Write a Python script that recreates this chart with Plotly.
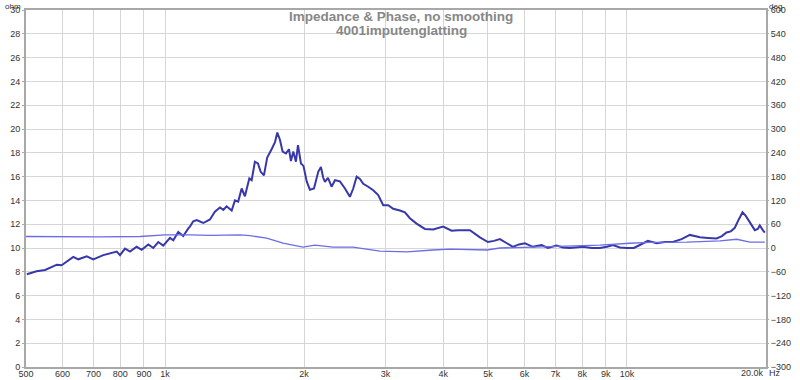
import plotly.graph_objects as go

# Impedance magnitude (ohm) vs frequency (Hz)
imp_freq = [502, 527, 550, 583, 597, 633, 649, 677, 699, 735, 786, 799, 819, 840, 868, 890, 920, 943, 967, 991,
            1025, 1042, 1068, 1095, 1123, 1132, 1151, 1171, 1210, 1251, 1282, 1315, 1337, 1359, 1394, 1417, 1440,
            1465, 1489, 1522, 1540, 1565, 1589, 1611, 1637, 1664, 1701, 1730, 1750, 1773, 1797, 1827, 1855, 1873,
            1895, 1920, 1940, 1969, 1994, 2026, 2059, 2101, 2146, 2175, 2200, 2219, 2253, 2294, 2333, 2391, 2452,
            2513, 2555, 2599, 2642, 2686, 2753, 2823, 2894, 2967, 3042, 3118, 3224, 3306, 3389, 3504, 3652, 3807,
            4001, 4172, 4312, 4571, 4805, 5000, 5152, 5308, 5496, 5663, 5836, 6013, 6257, 6534, 6743, 7042, 7267,
            7525, 8030, 8398, 8740, 9050, 9325, 9654, 9996, 10351, 10665, 11100, 11591, 12081, 12573, 13131, 13686,
            14385, 14971, 15635, 16054, 16425, 16780, 17118, 17463, 17789, 18084, 18449, 18914, 19199, 19391,
            19684, 19881]
imp_ohm = [7.8, 8.05, 8.15, 8.6, 8.55, 9.25, 9.05, 9.3, 9.05, 9.4, 9.7, 9.4, 9.95, 9.7, 10.1, 9.85, 10.3, 10.0,
           10.5, 10.2, 10.85, 10.65, 11.35, 11.0, 11.65, 11.8, 12.25, 12.35, 12.1, 12.4, 13.05, 13.4, 13.2, 13.5,
           13.15, 14.0, 13.9, 15.0, 14.35, 15.85, 15.7, 17.25, 17.1, 16.4, 16.1, 17.6, 18.3, 18.9, 19.7, 19.1,
           18.1, 17.95, 18.3, 17.3, 18.1, 17.25, 18.65, 17.1, 16.9, 15.6, 14.9, 15.0, 16.4, 16.8, 15.9, 15.55,
           15.9, 15.15, 15.7, 15.6, 15.0, 14.3, 15.0, 16.0, 15.8, 15.4, 15.15, 14.85, 14.45, 13.6, 13.6, 13.3,
           13.15, 13.0, 12.5, 12.05, 11.6, 11.55, 11.8, 11.45, 11.5, 11.5, 10.9, 10.5, 10.6, 10.75, 10.4, 10.1,
           10.3, 10.4, 10.1, 10.25, 10.0, 10.2, 10.05, 10.0, 10.1, 10.0, 10.0, 10.1, 10.25, 10.05, 10.0, 10.0,
           10.25, 10.6, 10.4, 10.5, 10.5, 10.75, 11.1, 10.9, 10.85, 10.8, 11.0, 11.3, 11.4, 11.7, 12.4, 13.0,
           12.7, 12.2, 11.5, 11.6, 11.9, 11.5, 11.3]

# Phase (deg) vs frequency (Hz)
ph_freq = [500, 592, 723, 883, 1000, 1132, 1251, 1453, 1527, 1660, 1800, 1989, 2111, 2309, 2551, 2919, 3339,
           3801, 4137, 4975, 5308, 6257, 7377, 8740, 10146, 11211, 13482, 15895, 17290, 18449, 19881]
ph_deg = [29, 28, 28, 29, 33, 33, 32, 33, 31, 25, 12, 2, 7, 2, 2, -8, -10, -5, -3, -5, 0, 2, 5, 7, 12, 14, 15,
          18, 22, 15, 15]

# Axis ticks
x_tickvals = [500, 600, 700, 800, 900, 1000, 2000, 3000, 4000, 5000, 6000, 7000, 8000, 9000, 10000]
x_ticktext = ["500", "600", "700", "800", "900", "1k", "2k", "3k", "4k", "5k", "6k", "7k", "8k", "9k", "10k"]
ohm_ticks = list(range(0, 31, 2))
deg_ticks = list(range(-300, 601, 60))

font_fam = "Liberation Sans, Arial, sans-serif"
tick_font = dict(family=font_fam, size=9, color="#333333")
title_font = dict(family=font_fam, size=13.5, color="#878787", weight="bold")

fig = go.Figure()
fig.add_trace(go.Scatter(x=ph_freq, y=ph_deg, yaxis="y2", mode="lines",
                         line=dict(color="#6c6ce6", width=1.3), showlegend=False))
fig.add_trace(go.Scatter(x=imp_freq, y=imp_ohm, mode="lines",
                         line=dict(color="#3838aa", width=2), showlegend=False))

fig.update_layout(
    width=800, height=380,
    margin=dict(l=26, r=34, t=10, b=13, autoexpand=False),
    paper_bgcolor="white", plot_bgcolor="white",
    xaxis=dict(type="log", range=[2.69897, 4.30103], tickvals=x_tickvals, ticktext=x_ticktext,
               tickfont=tick_font, showgrid=True, gridcolor="#d6d6d6", gridwidth=1,
               showline=True, linecolor="#a8a8a8", linewidth=2, mirror=True,
               ticks="", zeroline=False, automargin=False, ticklabelstandoff=-3),
    yaxis=dict(range=[0, 30], tickvals=ohm_ticks, tickfont=tick_font, showgrid=True,
               gridcolor="#d6d6d6", gridwidth=1, showline=True, linecolor="#a8a8a8",
               linewidth=2, mirror=True, ticks="outside", ticklen=2, tickcolor="#a8a8a8",
               zeroline=False, automargin=False),
    yaxis2=dict(range=[-300, 600], tickvals=deg_ticks, tickfont=tick_font, overlaying="y",
                side="right", showgrid=False, zeroline=False, ticks="outside", ticklen=2,
                tickcolor="#a8a8a8", automargin=False),
    annotations=[
        dict(text="Impedance & Phase, no smoothing", xref="paper", yref="paper", x=0.507, y=1,
             yshift=-6, xanchor="center", yanchor="middle", showarrow=False, font=title_font),
        dict(text="4001imputenglatting", xref="paper", yref="paper", x=0.507, y=1,
             yshift=-20, xanchor="center", yanchor="middle", showarrow=False, font=title_font),
        dict(text="ohm", xref="paper", yref="paper", x=0, y=1, xshift=-3, yshift=10,
             xanchor="right", yanchor="top", showarrow=False,
             font=dict(family=font_fam, size=8, color="#333333")),
        dict(text="deg", xref="paper", yref="paper", x=1, y=1, xshift=1, yshift=10,
             xanchor="left", yanchor="top", showarrow=False,
             font=dict(family=font_fam, size=8, color="#333333")),
        dict(text="20.0k", xref="paper", yref="paper", x=1, y=0, yshift=-6,
             xanchor="right", yanchor="middle", showarrow=False, font=tick_font),
        dict(text="Hz", xref="paper", yref="paper", x=1, y=0, xshift=1, yshift=-6,
             xanchor="left", yanchor="middle", showarrow=False, font=tick_font),
    ],
)

fig.write_html("out.html")
